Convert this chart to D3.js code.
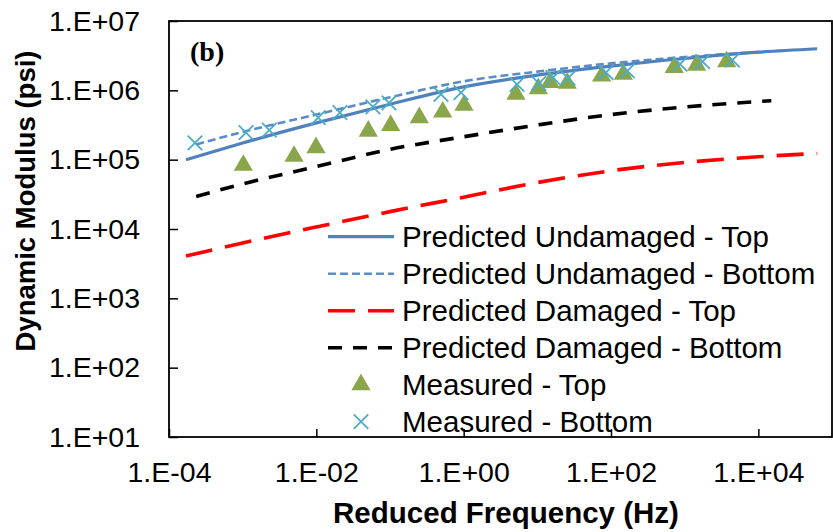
<!DOCTYPE html>
<html>
<head>
<meta charset="utf-8">
<script src="https://cdn.jsdelivr.net/npm/d3@7"></script>
<style>
  html, body { margin: 0; padding: 0; background: #fff; }
  svg { display: block; }
  text { font-family: "Liberation Sans", Arial, sans-serif; fill: #000; }
</style>
</head>
<body>
<svg id="chart" width="833" height="532"></svg>
<script>
// Predicted master curves (frequency in Hz, modulus in psi)
const topFreq = [1.7e-4, 1e-3, 1e-2, 1e-1, 1, 10, 100, 1e3, 1e4, 6.3e4];
const undamagedTop = [1.0e5, 1.74e5, 3.39e5, 6.31e5, 1.12e6, 1.66e6, 2.24e6, 2.88e6, 3.55e6, 3.98e6];
const damagedTop = [4.07e3, 6.3e3, 1.07e4, 1.78e4, 2.88e4, 4.68e4, 6.92e4, 9.12e4, 1.10e5, 1.23e5];

const bottomFreq = [2.34e-4, 1e-3, 1e-2, 1e-1, 1, 10, 100, 1e3, 1.5e4];
const undamagedBottom = [1.66e5, 2.51e5, 4.47e5, 7.94e5, 1.35e6, 1.86e6, 2.45e6, 3.02e6, 3.63e6];
const damagedBottom = [2.95e4, 4.47e4, 7.94e4, 1.41e5, 2.14e5, 3.16e5, 4.47e5, 5.75e5, 7.08e5];

// Measured dynamic modulus
const measuredTopFreq = [1.02e-3, 4.98e-3, 9.9e-3, 5.07e-2, 0.102, 0.25, 0.519, 1.01, 5.13, 10.3, 14.9, 25.5, 74.6, 147, 723, 1456, 3715];
const measuredTop = [8.3e4, 1.12e5, 1.49e5, 2.58e5, 3.12e5, 4.04e5, 4.86e5, 6.08e5, 8.77e5, 1.06e6, 1.30e6, 1.27e6, 1.61e6, 1.71e6, 2.14e6, 2.31e6, 2.58e6];
const measuredBottomFreq = [2.25e-4, 1.11e-3, 2.30e-3, 1.06e-2, 2.09e-2, 5.87e-2, 9.7e-2, 0.492, 0.92, 5.30, 10.5, 16.3, 26.1, 85.5, 167, 865, 1750, 4456];
const measuredBottom = [1.75e5, 2.45e5, 2.67e5, 4.04e5, 4.76e5, 5.78e5, 6.61e5, 8.77e5, 9.29e5, 1.22e6, 1.26e6, 1.53e6, 1.50e6, 1.81e6, 1.91e6, 2.39e6, 2.59e6, 2.72e6];

// Axis ticks
const xTickValues = [1e-4, 1e-2, 1, 1e2, 1e4];
const xTickLabels = ["1.E-04", "1.E-02", "1.E+00", "1.E+02", "1.E+04"];
const yTickValues = [1e1, 1e2, 1e3, 1e4, 1e5, 1e6, 1e7];
const yTickLabels = ["1.E+01", "1.E+02", "1.E+03", "1.E+04", "1.E+05", "1.E+06", "1.E+07"];

const seriesNames = [
  "Predicted Undamaged - Top",
  "Predicted Undamaged - Bottom",
  "Predicted Damaged - Top",
  "Predicted Damaged - Bottom",
  "Measured - Top",
  "Measured - Bottom"
];

const svg = d3.select("#chart");
const plot = { left: 169, right: 832, top: 21, bottom: 437 };

const x = d3.scaleLog().domain([1e-4, 1e5]).range([plot.left, plot.right]);
const y = d3.scaleLog().domain([1e1, 1e7]).range([plot.bottom, plot.top]);

const tickFont = "28.5px";

// Axes with inward ticks
const xAxis = svg.append("g")
  .attr("transform", `translate(0,${plot.bottom})`)
  .call(d3.axisBottom(x).tickValues(xTickValues)
    .tickFormat((d, i) => xTickLabels[i])
    .tickSizeInner(-8).tickSizeOuter(0).tickPadding(25));
xAxis.select(".domain").remove();
xAxis.selectAll("line").attr("stroke", "#000").attr("stroke-width", 1.5);
xAxis.selectAll("text").style("font-size", tickFont).style("font-family", "Liberation Sans, Arial, sans-serif").attr("fill", "#000");

const yAxis = svg.append("g")
  .attr("transform", `translate(${plot.left},0)`)
  .call(d3.axisLeft(y).tickValues(yTickValues)
    .tickFormat((d, i) => yTickLabels[i])
    .tickSizeInner(-9).tickSizeOuter(0).tickPadding(29));
yAxis.select(".domain").remove();
yAxis.selectAll("line").attr("stroke", "#000").attr("stroke-width", 1.5);
yAxis.selectAll("text").style("font-size", tickFont).style("font-family", "Liberation Sans, Arial, sans-serif").attr("fill", "#000");

// Plot frame
svg.append("rect")
  .attr("x", plot.left).attr("y", plot.top)
  .attr("width", plot.right - plot.left).attr("height", plot.bottom - plot.top)
  .attr("fill", "none").attr("stroke", "#000").attr("stroke-width", 1.8);

// Line styles
const styles = [
  { color: "#4F81BD", width: 3.2, dash: null },
  { color: "#5B8CC8", width: 2.6, dash: "8,4" },
  { color: "#FF0000", width: 3.6, dash: "27,13" },
  { color: "#000000", width: 3.6, dash: "14,11" }
];

const line = d3.line()
  .x(d => x(d[0]))
  .y(d => y(d[1]))
  .curve(d3.curveMonotoneX);

const curves = [
  d3.zip(topFreq, undamagedTop),
  d3.zip(bottomFreq, undamagedBottom),
  d3.zip(topFreq, damagedTop),
  d3.zip(bottomFreq, damagedBottom)
];

// draw order: damaged curves first, undamaged on top
[3, 2, 1, 0].forEach(i => {
  svg.append("path")
    .datum(curves[i])
    .attr("d", line)
    .attr("fill", "none")
    .attr("stroke", styles[i].color)
    .attr("stroke-width", styles[i].width)
    .attr("stroke-dasharray", styles[i].dash);
});

const triColor = "#8AA64B";
const crossColor = "#4BACC6";
const tri = d3.symbol().type(d3.symbolTriangle).size(160);
const cross = d3.symbol().type(d3.symbolX).size(140);

svg.append("g").selectAll("path")
  .data(d3.zip(measuredTopFreq, measuredTop))
  .join("path")
  .attr("transform", d => `translate(${x(d[0])},${y(d[1])})`)
  .attr("d", tri)
  .attr("fill", triColor);

svg.append("g").selectAll("path")
  .data(d3.zip(measuredBottomFreq, measuredBottom))
  .join("path")
  .attr("transform", d => `translate(${x(d[0])},${y(d[1])})`)
  .attr("d", cross)
  .attr("fill", "none")
  .attr("stroke", crossColor)
  .attr("stroke-width", 1.8);

// Legend
const legend = svg.append("g");
const legX0 = 328, legX1 = 394, legText = 402, legY0 = 236.7, legDy = 37;
seriesNames.forEach((name, i) => {
  const yy = legY0 + i * legDy;
  if (i < 4) {
    legend.append("line")
      .attr("x1", legX0).attr("x2", legX1).attr("y1", yy).attr("y2", yy)
      .attr("stroke", styles[i].color)
      .attr("stroke-width", styles[i].width)
      .attr("stroke-dasharray", styles[i].dash);
  } else if (i === 4) {
    legend.append("path").attr("transform", `translate(361,${yy})`).attr("d", tri).attr("fill", triColor);
  } else {
    legend.append("path").attr("transform", `translate(361,${yy})`).attr("d", cross)
      .attr("fill", "none").attr("stroke", crossColor).attr("stroke-width", 1.8);
  }
  legend.append("text")
    .attr("x", legText).attr("y", yy).attr("dy", "0.35em")
    .style("font-size", "29.5px")
    .text(name);
});

// Panel label
svg.append("text")
  .attr("x", 190).attr("y", 61)
  .style("font-family", "Liberation Serif, 'Times New Roman', serif")
  .style("font-weight", "bold").style("font-size", "28px")
  .text("(b)");

// Axis titles
svg.append("text")
  .attr("x", 506).attr("y", 522.5)
  .attr("text-anchor", "middle")
  .style("font-weight", "bold").style("font-size", "29.5px")
  .text("Reduced Frequency (Hz)");

svg.append("text")
  .attr("transform", "translate(35,201) rotate(-90)")
  .attr("text-anchor", "middle")
  .style("font-weight", "bold").style("font-size", "27.5px")
  .text("Dynamic Modulus (psi)");
</script>
</body>
</html>
